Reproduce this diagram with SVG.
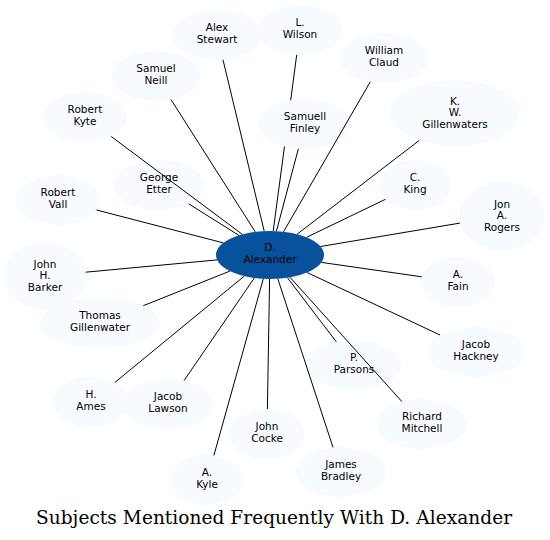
<svg xmlns="http://www.w3.org/2000/svg" width="550" height="540" viewBox="0 0 550 540">
<style>
.n ellipse{fill:#f7fbff;stroke:none}
.c ellipse{fill:#08519c;stroke:none}
text{font-family:"DejaVu Sans","Liberation Sans",sans-serif;font-size:10.5px;text-anchor:middle;fill:#000}
.t{font-family:"DejaVu Serif","Liberation Serif",serif;font-size:18.5px}
#edges path{stroke:#000;stroke-width:1;fill:none}
</style>
<rect width="550" height="540" fill="#fff"/>
<g id="alex_stewart" class="n"><ellipse cx="217" cy="35" rx="45" ry="25"/><text x="217"><tspan x="217" y="31">Alex</tspan><tspan x="217" y="42.7">Stewart</tspan></text></g>
<g id="l_wilson" class="n"><ellipse cx="300" cy="30" rx="42" ry="25"/><text x="300"><tspan x="300" y="26">L.</tspan><tspan x="300" y="37.7">Wilson</tspan></text></g>
<g id="william_claud" class="n"><ellipse cx="384" cy="58" rx="44" ry="25"/><text x="384"><tspan x="384" y="54">William</tspan><tspan x="384" y="65.7">Claud</tspan></text></g>
<g id="k_w_gillenwaters" class="n"><ellipse cx="455" cy="113" rx="65" ry="33"/><text x="455"><tspan x="455" y="104.5">K.</tspan><tspan x="455" y="116.2">W.</tspan><tspan x="455" y="127.9">Gillenwaters</tspan></text></g>
<g id="samuel_neill" class="n"><ellipse cx="156" cy="76" rx="45" ry="25"/><text x="156"><tspan x="156" y="72">Samuel</tspan><tspan x="156" y="83.7">Neill</tspan></text></g>
<g id="robert_kyte" class="n"><ellipse cx="85" cy="117" rx="42" ry="25"/><text x="85"><tspan x="85" y="113">Robert</tspan><tspan x="85" y="124.7">Kyte</tspan></text></g>
<g id="samuell_finley" class="n"><ellipse cx="305" cy="124" rx="46" ry="25"/><text x="305"><tspan x="305" y="120">Samuell</tspan><tspan x="305" y="131.7">Finley</tspan></text></g>
<g id="george_etter" class="n"><ellipse cx="159" cy="185" rx="45" ry="25"/><text x="159"><tspan x="159" y="181">George</tspan><tspan x="159" y="192.7">Etter</tspan></text></g>
<g id="c_king" class="n"><ellipse cx="415" cy="185" rx="36" ry="25"/><text x="415"><tspan x="415" y="181">C.</tspan><tspan x="415" y="192.7">King</tspan></text></g>
<g id="robert_vall" class="n"><ellipse cx="58" cy="200" rx="42" ry="25"/><text x="58"><tspan x="58" y="196">Robert</tspan><tspan x="58" y="207.7">Vall</tspan></text></g>
<g id="jon_a_rogers" class="n"><ellipse cx="502" cy="216" rx="43" ry="34"/><text x="502"><tspan x="502" y="207.5">Jon</tspan><tspan x="502" y="219.2">A.</tspan><tspan x="502" y="230.9">Rogers</tspan></text></g>
<g id="john_h_barker" class="n"><ellipse cx="45" cy="276" rx="41" ry="34"/><text x="45"><tspan x="45" y="267.5">John</tspan><tspan x="45" y="279.2">H.</tspan><tspan x="45" y="290.9">Barker</tspan></text></g>
<g id="a_fain" class="n"><ellipse cx="458" cy="282" rx="37" ry="25"/><text x="458"><tspan x="458" y="278">A.</tspan><tspan x="458" y="289.7">Fain</tspan></text></g>
<g id="thomas_gillenwater" class="n"><ellipse cx="100" cy="323" rx="60" ry="25"/><text x="100"><tspan x="100" y="319">Thomas</tspan><tspan x="100" y="330.7">Gillenwater</tspan></text></g>
<g id="jacob_hackney" class="n"><ellipse cx="476" cy="352" rx="49" ry="25"/><text x="476"><tspan x="476" y="348">Jacob</tspan><tspan x="476" y="359.7">Hackney</tspan></text></g>
<g id="p_parsons" class="n"><ellipse cx="354" cy="365" rx="47" ry="25"/><text x="354"><tspan x="354" y="361">P.</tspan><tspan x="354" y="372.7">Parsons</tspan></text></g>
<g id="h_ames" class="n"><ellipse cx="91" cy="402" rx="38" ry="25"/><text x="91"><tspan x="91" y="398">H.</tspan><tspan x="91" y="409.7">Ames</tspan></text></g>
<g id="jacob_lawson" class="n"><ellipse cx="168" cy="404" rx="45" ry="25"/><text x="168"><tspan x="168" y="400">Jacob</tspan><tspan x="168" y="411.7">Lawson</tspan></text></g>
<g id="john_cocke" class="n"><ellipse cx="267" cy="434" rx="38" ry="25"/><text x="267"><tspan x="267" y="430">John</tspan><tspan x="267" y="441.7">Cocke</tspan></text></g>
<g id="richard_mitchell" class="n"><ellipse cx="422" cy="424" rx="45" ry="25"/><text x="422"><tspan x="422" y="420">Richard</tspan><tspan x="422" y="431.7">Mitchell</tspan></text></g>
<g id="a_kyle" class="n"><ellipse cx="207" cy="480" rx="37" ry="25"/><text x="207"><tspan x="207" y="476">A.</tspan><tspan x="207" y="487.7">Kyle</tspan></text></g>
<g id="james_bradley" class="n"><ellipse cx="341" cy="472" rx="45" ry="25"/><text x="341"><tspan x="341" y="468">James</tspan><tspan x="341" y="479.7">Bradley</tspan></text></g>
<g id="d_alexander" class="c"><ellipse cx="270" cy="255" rx="54" ry="24"/><text x="270"><tspan x="270" y="251.2">D.</tspan><tspan x="270" y="262.9">Alexander</tspan></text></g>
<g id="edges">
<path d="M223,59.8L264.2,231.1"/>
<path d="M296.7,54.9L290.7,100.3M284.5,146.4L273.2,231"/>
<path d="M370.3,81.8L283.5,231.8"/>
<path d="M419.1,140.5L297.1,234.2"/>
<path d="M171,99.6L255.3,231.9"/>
<path d="M111.2,136.5L242.4,234.4"/>
<path d="M298.4,148.7L276.4,231.2"/>
<path d="M188.7,203.8L238.9,235.4"/>
<path d="M385.4,199.3L306.6,237.3"/>
<path d="M96.5,210L223.4,242.9"/>
<path d="M459.9,223.1L320.5,246.5"/>
<path d="M85.7,272.2L217.2,259.9"/>
<path d="M421.8,276.8L321.4,262.4"/>
<path d="M143.3,305.7L229.9,271.1"/>
<path d="M440,335L307.1,272.5"/>
<path d="M336.3,341.8L287.4,277.7"/>
<path d="M114.8,382.5L244.3,276.1"/>
<path d="M184,380.6L254.3,278"/>
<path d="M267.4,409L269.6,279"/>
<path d="M401.9,401.6L290,277.3"/>
<path d="M213.9,455.4L263.3,278.8"/>
<path d="M333,447.4L277.8,278.7"/>
</g>
<text class="t" x="274" y="524" textLength="476" lengthAdjust="spacing">Subjects Mentioned Frequently With D. Alexander</text>
</svg>
